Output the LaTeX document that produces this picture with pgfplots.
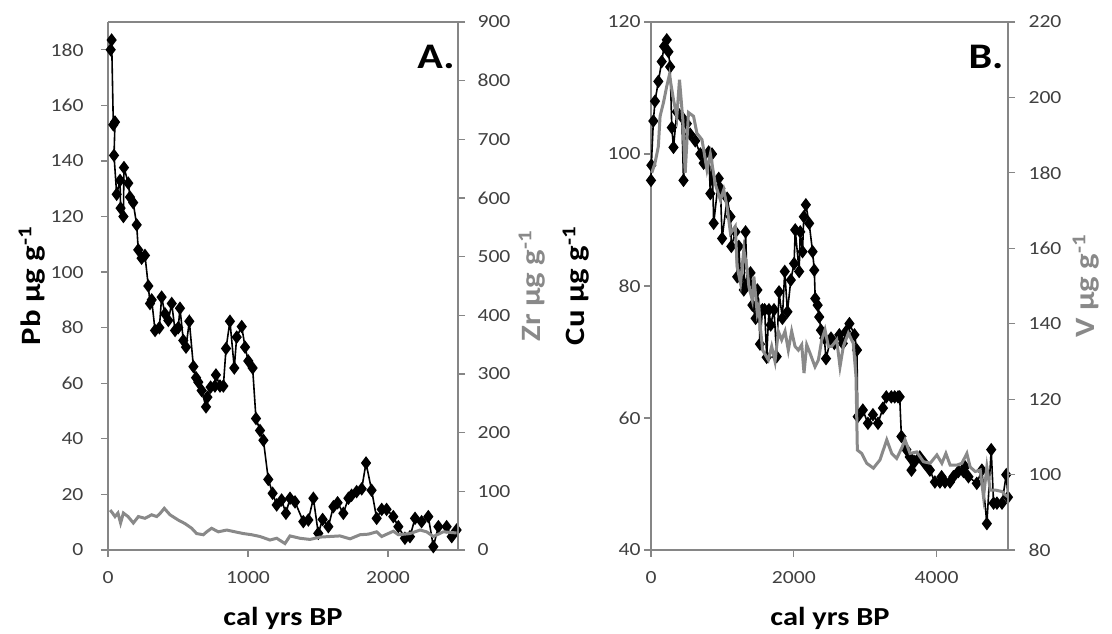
\documentclass[border=0pt]{standalone}
\usepackage{pgfplots}
\pgfplotsset{compat=1.18}
\usepackage{fontspec}
\setmainfont{Carlito}[FakeStretch=1.17]
\definecolor{axgray}{RGB}{134,134,134}
\definecolor{tickgray}{RGB}{64,64,64}
\definecolor{sergray}{RGB}{137,137,137}
\pgfplotsset{
  base/.style={scale only axis, width=350pt, height=528pt,
    axis line style={draw=axgray, line width=1.2pt},
    every tick/.style={draw=axgray, line width=1.2pt},
    major tick length=7pt, tick align=outside,
    ticklabel style={font=\fontsize{18.5}{22}\selectfont, text=tickgray},
    xticklabel style={yshift=-11pt},
    /pgf/number format/assume math mode=true,
    /pgf/number format/1000 sep={},
    clip=false},
  blk/.style={black, line width=1.6pt, mark=diamond*, mark size=5.5pt, mark options={solid, fill=black}},
  gry/.style={sergray, line width=3pt, no marks},
}
\begin{document}
\begin{tikzpicture}
\path[use as bounding box] (0,0) rectangle (1112pt,634pt);
% ---------- Panel A ----------
\begin{axis}[base, at={(108pt,84pt)}, anchor=south west,
  axis y line*=left, axis x line*=bottom,
  yticklabel style={xshift=-14pt},
  xmin=0, xmax=2500, ymin=0, ymax=190,
  xtick={0,1000,2000}, ytick={0,20,...,180}]
\addplot[blk] coordinates {
(19,180) (26,183.5) (38,153) (50,154) (43,142) (62,128) (86,133) (90,123) (110,120) (114,137.6) (145,132) (157,127) (180,125) (205,117) (216,108) (240,105) (264,106) (288,95) (300,88.7) (312,90) (336,79) (367,80) (383,91) (407,85) (431,82.6) (455,88.7) (479,79) (502,80) (514,87) (538,75.4) (557,73) (581,82.3) (610,66) (629,62) (645,60.4) (669,57.4) (700,51.5) (710,55) (733,58.6) (764,59) (771,63) (800,59) (824,59) (843,72.5) (871,82.3) (902,65.5) (919,76.6) (955,80.4) (979,73) (1002,68) (1033,65.5) (1057,47.3) (1086,43) (1110,39.5) (1145,25.4) (1176,20.4) (1205,16.2) (1240,18) (1271,13.2) (1300,18.6) (1336,17.3) (1395,10.2) (1431,10.8) (1467,18.6) (1502,6) (1533,11) (1574,8.4) (1610,15.6) (1640,17) (1681,13.2) (1717,18.6) (1740,19.7) (1776,21) (1812,22) (1843,31.3) (1883,21.5) (1919,11.4) (1955,14.6) (1990,14.6) (2038,12) (2074,8.4) (2121,4.2) (2157,4.8) (2193,11.4) (2240,10.2) (2288,12) (2324,1.2) (2360,8.4) (2419,8.4) (2455,4.8) (2490,7.2)
};
\end{axis}
\begin{axis}[base, at={(108pt,84pt)}, anchor=south west,
  axis y line*=right, axis x line*=top, xtick=\empty,
  yticklabel style={xshift=9pt},
  xmin=0, xmax=2500, ymin=0, ymax=900,
  ytick={0,100,...,900}]
\addplot[gry] coordinates {
(15,68) (26,65) (50,57) (71,63) (90,46) (110,63) (143,57) (181,46) (217,57) (264,54) (312,60) (348,57) (371,62) (402,71) (443,60) (502,51) (550,45) (598,37) (633,28) (681,26) (705,31) (740,37) (788,31) (848,34) (907,31) (967,28) (1026,26) (1086,23) (1157,17) (1205,20) (1264,11) (1300,24) (1371,20) (1443,18) (1514,22) (1586,23) (1657,24) (1729,19) (1800,26) (1860,27) (1919,31) (1955,23) (2038,32) (2074,26) (2157,28) (2229,34) (2276,31) (2324,23) (2395,31) (2490,29)
};
\end{axis}
% ---------- Panel B ----------
\begin{axis}[base, width=357pt, at={(651pt,84pt)}, anchor=south west,
  axis y line*=left, axis x line*=bottom,
  xmin=0, xmax=5000, ymin=40, ymax=120,
  xtick={0,2000,4000}, ytick={40,60,...,120}]
\addplot[blk] coordinates {
(0,96) (5,98.3) (33,105) (56,108) (103,111) (150,114) (183,116.3) (221,117.3) (244,115.5) (268,113.2) (291,104) (315,101) (362,106.4) (432,105.6) (455,96) (502,104.6) (549,103) (620,102) (690,100) (737,98.6) (807,100.3) (831,94) (855,100) (878,89.5) (948,96.3) (972,94.8) (996,87.2) (1066,93.3) (1113,90.5) (1125,86) (1183,88.2) (1207,81.4) (1230,86) (1254,81.2) (1300,79.4) (1324,88.2) (1348,80.4) (1394,82) (1420,77.1) (1465,75.1) (1490,79.4) (1511,76.4) (1526,71.2) (1560,76.4) (1592,76.4) (1620,69.2) (1652,76.4) (1676,74.1) (1723,76.4) (1760,69.3) (1793,79.1) (1840,75.1) (1873,82.2) (1911,76.1) (1958,80.9) (2004,83.4) (2020,88.5) (2075,82.2) (2090,88.2) (2122,85.2) (2140,90.5) (2169,92.3) (2215,89.5) (2263,85.2) (2287,82.4) (2300,78.1) (2334,77.1) (2356,75.3) (2380,73.3) (2427,72.1) (2451,69) (2521,72.1) (2568,71.3) (2638,72.6) (2686,71.3) (2732,73.1) (2779,74.3) (2850,72.6) (2885,70.3) (2895,60.2) (2967,61.2) (3038,59.2) (3108,60.5) (3179,59.2) (3249,61.5) (3296,63.2) (3366,63.2) (3413,63.2) (3460,63.2) (3483,63.2) (3507,57.2) (3577,55.2) (3624,54.1) (3648,52.1) (3694,53.4) (3765,54.1) (3835,53.1) (3906,52.1) (3976,50.3) (4047,50.3) (4070,51.1) (4117,50.3) (4188,50.3) (4235,51.1) (4306,51.9) (4376,51.9) (4399,52.6) (4446,51.1) (4563,50.1) (4634,52.1) (4704,44) (4765,55.2) (4798,47.1) (4845,47.1) (4916,47.1) (4975,51.4) (5000,48)
};
\end{axis}
\begin{axis}[base, width=357pt, at={(651pt,84pt)}, anchor=south west,
  axis y line*=right, axis x line*=top, xtick=\empty,
  yticklabel style={xshift=10pt},
  xmin=0, xmax=5000, ymin=80, ymax=220,
  ytick={80,100,...,220}]
\addplot[gry] coordinates {
(10,180) (56,182.6) (103,187) (127,195) (173,198.5) (221,203) (258,206) (315,199.4) (362,195) (399,204.7) (446,194) (479,180) (525,196) (596,195) (643,190.5) (714,188.8) (784,180.8) (831,185) (901,177) (972,172.8) (1018,175.5) (1066,171) (1113,164) (1180,165.8) (1207,155) (1254,150.7) (1300,159.6) (1348,154.3) (1371,149.8) (1418,146.3) (1441,152.5) (1488,142.8) (1511,144.5) (1535,138.4) (1563,133) (1643,130.4) (1690,134) (1737,130) (1783,138) (1830,135.7) (1877,138) (1923,133) (1970,138) (2017,134) (2064,133) (2111,134.4) (2143,126.9) (2181,134.4) (2227,132.2) (2297,128.6) (2344,130.4) (2391,135.7) (2437,138.4) (2484,134) (2531,134) (2601,135.7) (2647,128.6) (2694,134) (2764,137.5) (2833,134.8) (2871,126) (2890,106.5) (2951,105.6) (3021,103) (3115,101.7) (3207,103.9) (3302,109.2) (3372,105.6) (3441,104.3) (3511,107) (3558,109.2) (3628,105.6) (3722,106) (3816,103.4) (3910,103) (4004,105.2) (4074,103) (4130,105.6) (4190,102.5) (4284,102.5) (4354,103) (4424,105.6) (4470,102) (4541,100.8) (4611,101.2) (4657,94.1) (4704,102) (4751,95.9) (4822,95.9) (4915,95.5) (4962,94.6) (5000,94.1)
};
\end{axis}
% ---------- labels ----------
\node[font=\fontsize{26}{30}\selectfont\bfseries] at (283pt,16pt) {cal yrs BP};
\node[font=\fontsize{26}{30}\selectfont\bfseries] at (830pt,16pt) {cal yrs BP};
\node[rotate=90, font=\fontsize{28}{32}\selectfont\bfseries] at (32pt,348pt) {Pb μg g\textsuperscript{-1}};
\node[rotate=90, font=\fontsize{28}{32}\selectfont\bfseries, text=sergray] at (532pt,348pt) {Zr μg g\textsuperscript{-1}};
\node[rotate=90, font=\fontsize{28}{32}\selectfont\bfseries] at (576pt,348pt) {Cu μg g\textsuperscript{-1}};
\node[rotate=90, font=\fontsize{28}{32}\selectfont\bfseries, text=sergray] at (1086pt,348pt) {V μg g\textsuperscript{-1}};
\node[font=\fontsize{36}{40}\selectfont\bfseries] at (436pt,577pt) {A.};
\node[font=\fontsize{36}{40}\selectfont\bfseries] at (986pt,577pt) {B.};
\end{tikzpicture}
\end{document}
